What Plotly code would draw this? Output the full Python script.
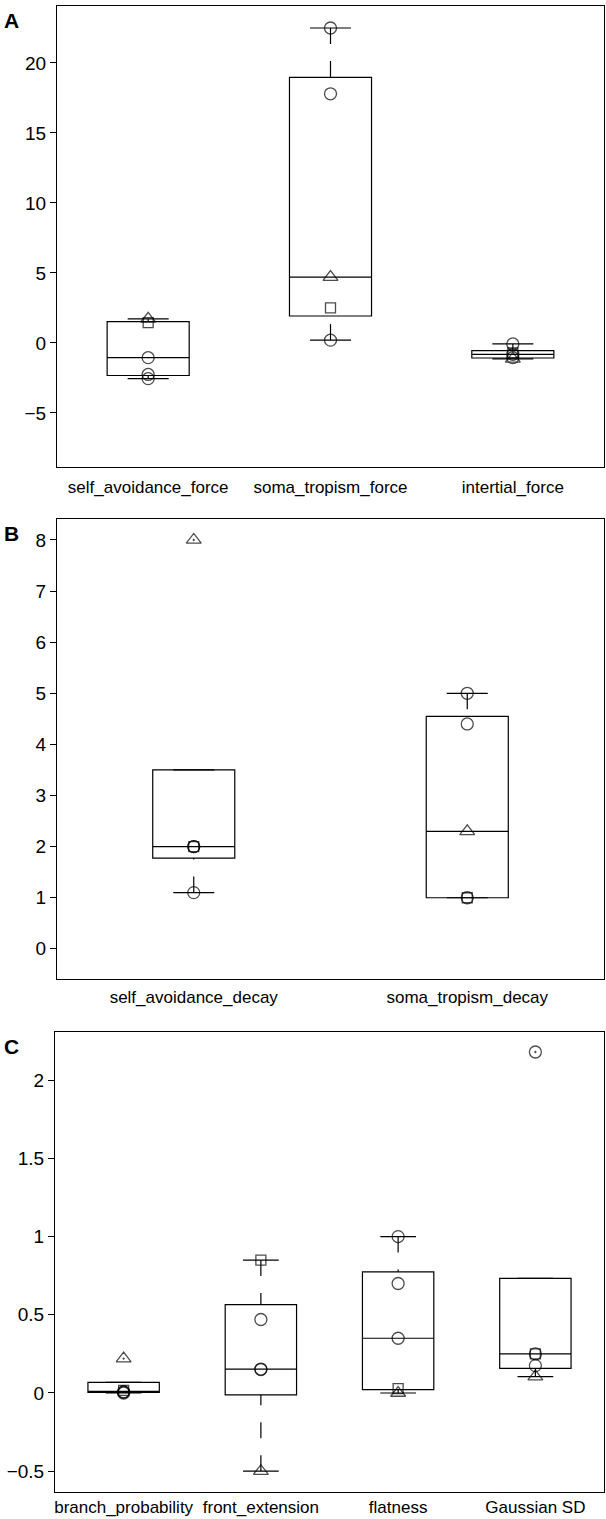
import numpy as np
import plotly.graph_objects as go

# ---- data (one triangle, one square, three circles per group) ----
A_labels = ["self_avoidance_force", "soma_tropism_force", "intertial_force"]
A_triangle = [1.72, 4.7, -1.14]
A_square = [1.45, 2.5, -0.71]
A_circles = [[-1.05, -2.25, -2.55], [22.5, 17.8, 0.2], [-0.07, -0.81, -1.05]]

B_labels = ["self_avoidance_decay", "soma_tropism_decay"]
B_triangle = [8.0, 2.3]
B_square = [2.0, 1.0]
B_circles = [[2.0, 2.0, 1.1], [5.0, 4.4, 1.0]]

C_labels = ["branch_probability", "front_extension", "flatness", "Gaussian SD"]
C_triangle = [0.22, -0.5, 0.0, 0.105]
C_square = [0.017, 0.85, 0.028, 0.25]
C_circles = [[0.0, 0.005, 0.008], [0.47, 0.15, 0.153], [1.0, 0.7, 0.35], [2.18, 0.25, 0.175]]

A_ticks = [-5, 0, 5, 10, 15, 20]
B_ticks = [0, 1, 2, 3, 4, 5, 6, 7, 8]
C_ticks = [-0.5, 0, 0.5, 1, 1.5, 2]

W, H = 606, 1519
FONT = "Liberation Sans, Arial, Helvetica, sans-serif"

# panel frames in pixels: (left, right, top, bottom), y range, box width (data units), label standoff
panels = [
    dict(labels=A_labels, tri=A_triangle, sq=A_square, circ=A_circles, ticks=A_ticks,
         frame=(57, 604, 6, 467), yrange=[-8.86, 24.07], boxw=0.45, standoff=5, letter="A"),
    dict(labels=B_labels, tri=B_triangle, sq=B_square, circ=B_circles, ticks=B_ticks,
         frame=(57, 604, 519, 979), yrange=[-0.59, 8.41], boxw=0.30, standoff=3, letter="B"),
    dict(labels=C_labels, tri=C_triangle, sq=C_square, circ=C_circles, ticks=C_ticks,
         frame=(55, 604, 1032, 1492), yrange=[-0.633, 2.308], boxw=0.52, standoff=0, letter="C"),
]


def stats(vals):
    # matlab-style quartiles
    q1, med, q3 = np.percentile(vals, [25, 50, 75], method="hazen")
    iqr = q3 - q1
    lo_f, hi_f = q1 - 1.5 * iqr, q3 + 1.5 * iqr
    inl = [v for v in vals if lo_f <= v <= hi_f]
    lo_adj = min(q1, min(inl))
    hi_adj = max(q3, max(inl))
    return q1, med, q3, lo_adj, hi_adj, lo_f, hi_f


fig = go.Figure()
layout = dict(
    width=W, height=H, margin=dict(l=0, r=0, t=0, b=0),
    paper_bgcolor="white", plot_bgcolor="white", showlegend=False,
    font=dict(family=FONT, size=17, color="black"),
)
annotations = []

for i, p in enumerate(panels):
    n = i + 1
    sfx = "" if n == 1 else str(n)
    xa, ya = "x" + sfx, "y" + sfx
    l, r, t, b = p["frame"]
    xdom = [l / W, r / W]
    ydom = [1 - b / H, 1 - t / H]
    ngrp = len(p["labels"])
    capw = p["boxw"] / 4

    for g in range(ngrp):
        pos = g + 1
        vals = [p["tri"][g], p["sq"][g]] + p["circ"][g]
        syms = ["triangle-up", "square", "circle", "circle", "circle"]
        q1, med, q3, lo_adj, hi_adj, lo_f, hi_f = stats(vals)

        fig.add_trace(go.Box(
            x=[pos], q1=[q1], median=[med], q3=[q3], lowerfence=[q1], upperfence=[q3],
            width=p["boxw"], whiskerwidth=0, boxpoints=False,
            fillcolor="rgba(255,255,255,0)", line=dict(color="black", width=1.2),
            xaxis=xa, yaxis=ya, hoverinfo="skip",
        ))
        # dashed whiskers, drawn from the cap towards the box
        for adj, edge in [(hi_adj, q3), (lo_adj, q1)]:
            if abs(adj - edge) > 1e-12:
                fig.add_trace(go.Scatter(
                    x=[pos, pos], y=[adj, edge], mode="lines",
                    line=dict(color="black", width=1.2, dash="16px,17px"),
                    xaxis=xa, yaxis=ya, hoverinfo="skip",
                ))
            fig.add_trace(go.Scatter(
                x=[pos - capw, pos + capw], y=[adj, adj], mode="lines",
                line=dict(color="black", width=1.2),
                xaxis=xa, yaxis=ya, hoverinfo="skip",
            ))
        # data points, outliers get a dot
        msyms = []
        for v, s in zip(vals, syms):
            out = v < lo_f or v > hi_f
            msyms.append(s + "-open" + ("-dot" if out else ""))
        sizes = [13 if s.startswith("triangle") else 10 if s.startswith("square") else 12 for s in syms]
        fig.add_trace(go.Scatter(
            x=[pos] * len(vals), y=vals, mode="markers",
            marker=dict(symbol=msyms, size=sizes, color="black",
                        line=dict(color="black", width=1.3)),
            xaxis=xa, yaxis=ya, hoverinfo="skip",
        ))

    layout["xaxis" + sfx] = dict(
        domain=xdom, anchor=ya, range=[0.5, ngrp + 0.5],
        tickvals=list(range(1, ngrp + 1)), ticktext=p["labels"], ticks="",
        ticklabelstandoff=p["standoff"],
        showline=True, mirror=True, linecolor="black", linewidth=1,
        showgrid=False, zeroline=False, tickfont=dict(size=17),
    )
    layout["yaxis" + sfx] = dict(
        domain=ydom, anchor=xa, range=p["yrange"], tickvals=p["ticks"],
        ticks="outside", ticklen=6, tickcolor="black",
        showline=True, mirror=True, linecolor="black", linewidth=1,
        showgrid=False, zeroline=False, tickfont=dict(size=19),
    )
    # inward ticks on the right edge
    layout["yaxis" + str(n + 3)] = dict(
        overlaying=ya, anchor=xa, side="right", range=p["yrange"], tickvals=p["ticks"],
        ticks="inside", ticklen=6, tickcolor="black", showticklabels=False,
        showline=False, showgrid=False, zeroline=False,
    )
    annotations.append(dict(
        text="<b>%s</b>" % p["letter"], xref="paper", yref="paper",
        x=2 / W, y=1 - (t + 1) / H, xanchor="left", yanchor="top",
        showarrow=False, font=dict(size=21, family=FONT, color="black"),
    ))

layout["annotations"] = annotations
fig.update_layout(**layout)
fig.write_html("out.html", config={"displayModeBar": False},
               post_script="document.body.style.margin='0';")
